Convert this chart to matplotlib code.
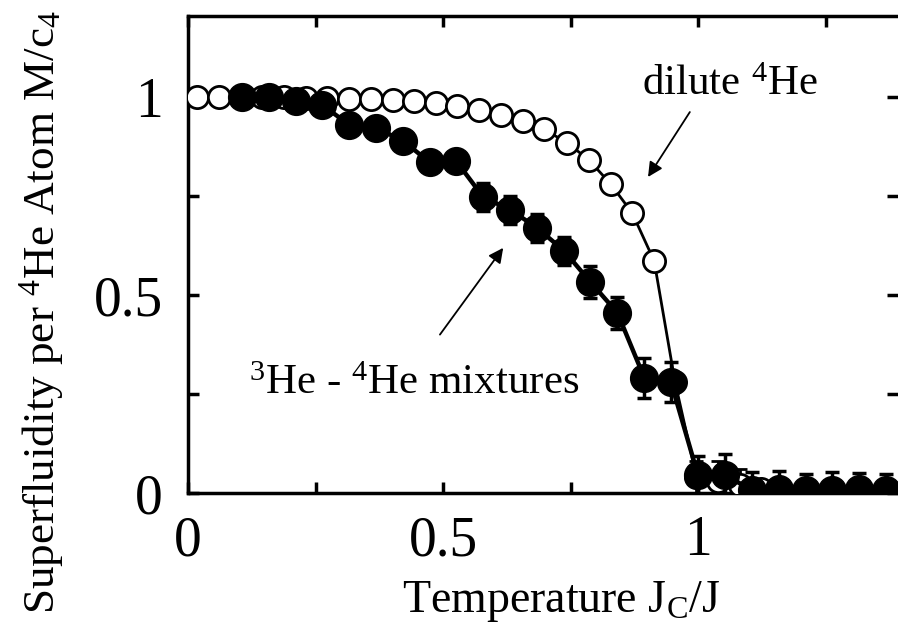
import matplotlib
matplotlib.use("Agg")
import matplotlib.pyplot as plt
from matplotlib.ticker import MultipleLocator

plt.rcParams['font.family'] = ['Liberation Serif', 'DejaVu Serif']
plt.rcParams['mathtext.fontset'] = 'custom'
plt.rcParams['mathtext.rm'] = 'Liberation Serif'
plt.rcParams['mathtext.it'] = 'Liberation Serif:italic'

# dilute 4He (open circles)
dilute_T = [0.018, 0.061, 0.103, 0.146, 0.188, 0.231, 0.273, 0.316, 0.358, 0.401,
            0.443, 0.486, 0.528, 0.571, 0.613, 0.656, 0.698, 0.743, 0.786, 0.829,
            0.871, 0.914, 0.955, 0.997, 1.039, 1.082, 1.124]
dilute_S = [1.0, 1.0, 1.0, 1.0, 0.999, 0.998, 0.997, 0.996, 0.995, 0.993,
            0.99, 0.985, 0.978, 0.968, 0.955, 0.94, 0.918, 0.885, 0.841, 0.78,
            0.707, 0.586, 0.28, 0.04, 0.03, 0.02, 0.01]
dilute_err = [0.005] * 22 + [0.02, 0.04, 0.05, 0.04, 0.02]

# 3He-4He mixtures (filled circles)
mix_T = [0.105, 0.158, 0.211, 0.263, 0.316, 0.368, 0.421, 0.474, 0.526, 0.579,
         0.632, 0.684, 0.737, 0.789, 0.842, 0.895, 0.947, 1.0, 1.053, 1.105,
         1.158, 1.211, 1.263, 1.316, 1.368]
mix_S = [1.0, 1.0, 0.99, 0.98, 0.93, 0.922, 0.89, 0.835, 0.838, 0.747,
         0.715, 0.67, 0.612, 0.533, 0.455, 0.29, 0.28, 0.045, 0.045, 0.008,
         0.01, 0.008, 0.008, 0.01, 0.008]
mix_err = [0.005, 0.005, 0.005, 0.008, 0.01, 0.01, 0.012, 0.02, 0.02, 0.035,
           0.035, 0.035, 0.035, 0.04, 0.04, 0.05, 0.05, 0.048, 0.053, 0.045,
           0.045, 0.04, 0.045, 0.04, 0.04]

fig = plt.figure(figsize=(8.98, 6.28), dpi=100)
ax = fig.add_axes([188 / 898, 135 / 628, 710 / 898, 477 / 628])

ax.errorbar(dilute_T, dilute_S, yerr=dilute_err, fmt='o-', color='black',
            mfc='white', mec='black', mew=2.0, ms=16, lw=2.0,
            elinewidth=2.0, capsize=5, capthick=2.5, zorder=3)
ax.errorbar(mix_T, mix_S, yerr=mix_err, fmt='o-', color='black',
            mfc='black', mec='black', ms=20, lw=3.2,
            elinewidth=2.5, capsize=5, capthick=2.5, zorder=4)

ax.annotate('', xy=(0.902, 0.798), xytext=(0.984, 0.962),
            arrowprops=dict(arrowstyle='-|>', color='black', lw=1.3,
                            mutation_scale=22, shrinkA=0, shrinkB=0))
ax.annotate('', xy=(0.618, 0.619), xytext=(0.494, 0.40),
            arrowprops=dict(arrowstyle='-|>', color='black', lw=1.3,
                            mutation_scale=22, shrinkA=0, shrinkB=0))
ax.text(0.89, 1.005, r'dilute $^4$He', fontsize=31, ha='left', va='baseline')
ax.text(0.12, 0.25, r'$^3$He - $^4$He mixtures', fontsize=31,
        ha='left', va='baseline')

ax.set_xlim(0, 710 / 510)
ax.set_ylim(0, 477 / 396)
ax.xaxis.set_minor_locator(MultipleLocator(0.25))
ax.yaxis.set_minor_locator(MultipleLocator(0.25))
ax.set_xticks([0, 0.5, 1])
ax.set_xticklabels(['0', '0.5', '1'])
ax.set_yticks([0, 0.5, 1])
ax.set_yticklabels(['0', '0.5', '1'])
ax.tick_params(which='both', direction='in', top=True, right=True,
               length=8, width=2.5, labelsize=40)
ax.tick_params(axis='x', which='major', pad=16)
ax.tick_params(axis='y', which='major', pad=18)
ax.spines['right'].set_visible(False)
for s in ['left', 'bottom', 'top']:
    ax.spines[s].set_linewidth(2.5)

ax.set_xlabel(r'Temperature J$_\mathrm{C}$/J', fontsize=33)
ax.xaxis.set_label_coords(0.525, -0.18)
ax.set_ylabel(r'Superfluidity per $^4$He Atom M/c$_4$', fontsize=32.5)
ax.yaxis.set_label_coords(-0.172, 0.38)

fig.savefig('out.png', dpi=100)
